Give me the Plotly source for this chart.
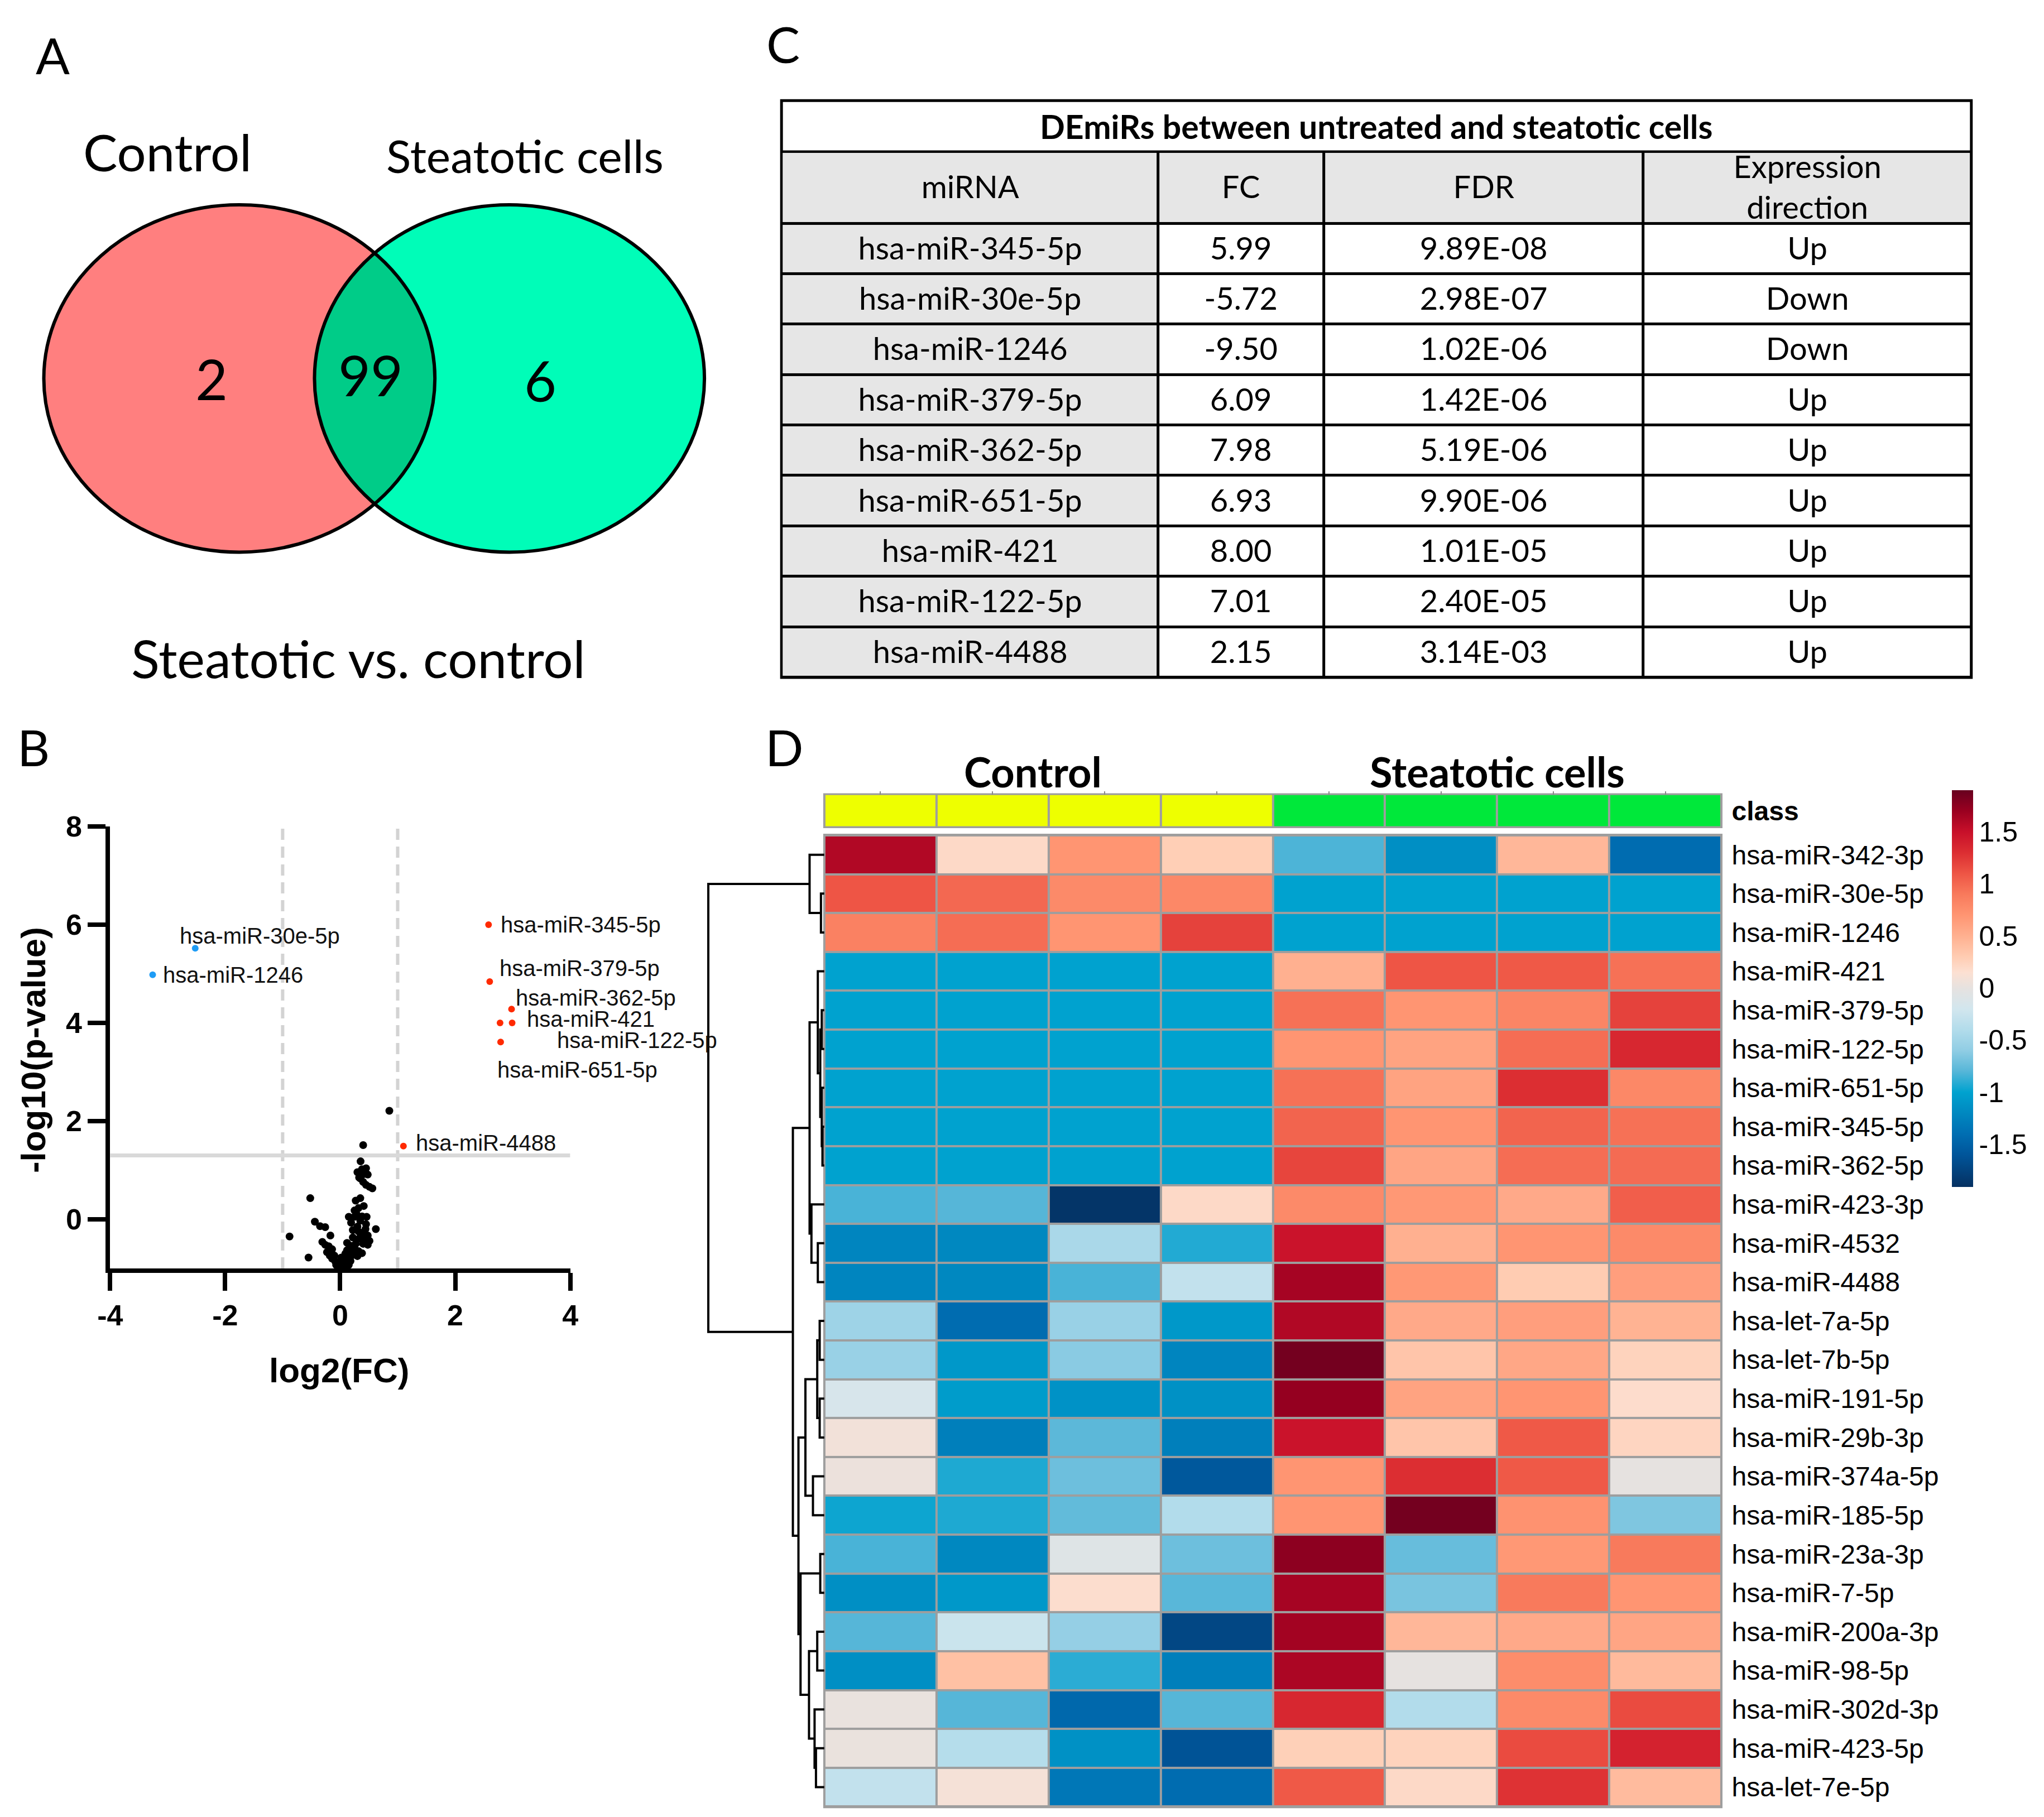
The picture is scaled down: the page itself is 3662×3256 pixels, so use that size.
import numpy as np
import plotly.graph_objects as go

W, H = 3662, 3256
OX, OY = 30, 37   # page offset seen in the rendered picture
def px(x): return (x - OX) / W
def py(y): return 1 - (y - OY) / H

ARIAL = "Liberation Sans, Arial, sans-serif"
CALIBRI = "Lato, Open Sans, sans-serif"

# ---------------- data ----------------
venn_sets = ["Control", "Steatotic cells"]
venn_counts = [2, 99, 6]
venn_title = "Steatotic vs. control"

volc_names = ["hsa-miR-345-5p", "hsa-miR-30e-5p", "hsa-miR-1246", "hsa-miR-379-5p",
              "hsa-miR-362-5p", "hsa-miR-651-5p", "hsa-miR-421", "hsa-miR-122-5p", "hsa-miR-4488"]
volc_log2fc = [2.58, -2.52, -3.26, 2.60, 2.98, 2.79, 2.99, 2.78, 1.10]
volc_neglogp = [6.00, 5.52, 4.98, 4.84, 4.28, 3.61, 4.00, 4.00, 1.49]
other_log2fc = [0.855, 0.40, 0.355, 0.38, 0.45, 0.30, 0.41, 0.48, 0.35, 0.40, 0.45, 0.51, 0.56,
                -0.52, 0.35, 0.27, 0.41, 0.25, 0.32, 0.15, 0.25, 0.38, 0.46, 0.19, 0.35, 0.45,
                -0.44, -0.35, -0.26, 0.62, -0.88, -0.17, 0.22, 0.32, 0.41, 0.48, 0.22, 0.32, 0.43, 0.51, 0.48,
                -0.31, -0.26, -0.20, -0.14, -0.55, 0.12, 0.19, 0.25, 0.32, 0.38, 0.17, 0.24,
                -0.23, -0.18, -0.14, -0.09, -0.04, 0.01, 0.06, 0.11, 0.14, 0.09, 0.04, -0.07, -0.01, 0.07, 0.15, -0.10, -0.15, 0.12, 0.20,
                0.28, 0.30, 0.36, 0.27, 0.30, 0.02, -0.02, 0.04, 0.18, 0.40, 0.44, 0.37, 0.33]
other_neglogp = [2.21, 1.51, 1.18, 1.02, 1.04, 0.96, 0.92, 0.91, 0.83, 0.76, 0.70, 0.66, 0.63,
                 0.43, 0.43, 0.38, 0.27, 0.18, 0.23, 0.05, 0.05, 0.06, 0.05, -0.07, -0.03, -0.10,
                 -0.05, -0.14, -0.16, -0.20, -0.35, -0.33, -0.22, -0.25, -0.27, -0.33, -0.37, -0.40, -0.40, -0.44, -0.52,
                 -0.46, -0.52, -0.55, -0.61, -0.78, -0.48, -0.54, -0.59, -0.65, -0.69, -0.63, -0.69,
                 -0.67, -0.74, -0.80, -0.85, -0.89, -0.93, -0.87, -0.83, -0.76, -0.70, -0.80, -0.93, -1.0, -0.97, -0.93, -0.74, -0.68, -0.63, -0.74,
                 0.12, -0.15, -0.33, -0.50, -0.75, -0.78, -0.97, -1.0, -0.85, -0.50, -0.20, 0.95, 0.85]
fc_cutoff = 1.0
p_cutoff = 0.05
volc_xticks = [-4, -2, 0, 2, 4]
volc_yticks = [0, 2, 4, 6, 8]

table_title = "DEmiRs between untreated and steatotic cells"
table_header = ["miRNA", "FC", "FDR", "Expression<br>direction"]
table_mirna = ["hsa-miR-345-5p", "hsa-miR-30e-5p", "hsa-miR-1246", "hsa-miR-379-5p", "hsa-miR-362-5p",
               "hsa-miR-651-5p", "hsa-miR-421", "hsa-miR-122-5p", "hsa-miR-4488"]
table_fc = [5.99, -5.72, -9.50, 6.09, 7.98, 6.93, 8.00, 7.01, 2.15]
table_fdr = ["9.89E-08", "2.98E-07", "1.02E-06", "1.42E-06", "5.19E-06", "9.90E-06", "1.01E-05", "2.40E-05", "3.14E-03"]
table_dir = ["Up", "Down", "Down", "Up", "Up", "Up", "Up", "Up", "Up"]

hm_rows = ["hsa-miR-342-3p", "hsa-miR-30e-5p", "hsa-miR-1246", "hsa-miR-421", "hsa-miR-379-5p",
           "hsa-miR-122-5p", "hsa-miR-651-5p", "hsa-miR-345-5p", "hsa-miR-362-5p", "hsa-miR-423-3p",
           "hsa-miR-4532", "hsa-miR-4488", "hsa-let-7a-5p", "hsa-let-7b-5p", "hsa-miR-191-5p",
           "hsa-miR-29b-3p", "hsa-miR-374a-5p", "hsa-miR-185-5p", "hsa-miR-23a-3p", "hsa-miR-7-5p",
           "hsa-miR-200a-3p", "hsa-miR-98-5p", "hsa-miR-302d-3p", "hsa-miR-423-5p", "hsa-let-7e-5p"]
hm_classes = ["Control"] * 4 + ["Steatotic cells"] * 4
hm_values = [
    [1.60, 0.20, 0.70, 0.28, -0.82, -1.15, 0.45, -1.42],
    [1.10, 1.00, 0.78, 0.80, -1.00, -1.00, -1.00, -1.00],
    [0.85, 0.97, 0.70, 1.20, -1.00, -1.00, -1.00, -1.00],
    [-1.00, -1.00, -1.00, -1.00, 0.50, 1.10, 1.08, 0.95],
    [-1.00, -1.00, -1.00, -1.00, 0.95, 0.70, 0.82, 1.20],
    [-1.00, -1.00, -1.00, -1.00, 0.70, 0.60, 0.97, 1.35],
    [-1.00, -1.00, -1.00, -1.00, 0.95, 0.60, 1.30, 0.80],
    [-1.00, -1.00, -1.00, -1.00, 1.02, 0.70, 1.02, 0.95],
    [-1.00, -1.00, -1.00, -1.00, 1.18, 0.58, 0.97, 0.98],
    [-0.83, -0.80, -1.87, 0.20, 0.78, 0.68, 0.55, 1.05],
    [-1.22, -1.20, -0.45, -0.92, 1.48, 0.50, 0.70, 0.78],
    [-1.22, -1.20, -0.83, -0.30, 1.65, 0.68, 0.30, 0.63],
    [-0.52, -1.42, -0.55, -1.08, 1.60, 0.55, 0.63, 0.48],
    [-0.55, -1.08, -0.62, -1.22, 1.85, 0.35, 0.57, 0.25],
    [-0.15, -1.05, -1.12, -1.13, 1.72, 0.60, 0.70, 0.18],
    [0.08, -1.27, -0.78, -1.27, 1.48, 0.35, 1.08, 0.23],
    [0.04, -0.93, -0.72, -1.58, 0.70, 1.30, 1.08, 0.00],
    [-0.97, -0.93, -0.76, -0.40, 0.70, 1.85, 0.72, -0.66],
    [-0.83, -1.20, -0.08, -0.72, 1.75, -0.74, 0.68, 0.90],
    [-1.15, -1.08, 0.17, -0.79, 1.65, -0.68, 0.90, 0.70],
    [-0.80, -0.25, -0.57, -1.72, 1.66, 0.45, 0.55, 0.58],
    [-1.15, 0.38, -0.90, -1.27, 1.62, 0.00, 0.76, 0.43],
    [0.02, -0.80, -1.45, -0.80, 1.35, -0.40, 0.78, 1.15],
    [0.03, -0.38, -1.13, -1.62, 0.27, 0.25, 1.15, 1.38],
    [-0.30, 0.10, -1.33, -1.42, 1.08, 0.20, 1.28, 0.42],
]
hm_linkage = [
    (1, 2, 0.029), (0, 25, 0.127), (7, 8, 0.016), (6, 27, 0.022), (4, 5, 0.022),
    (29, 28, 0.035), (3, 30, 0.056), (10, 11, 0.056), (9, 32, 0.111), (31, 33, 0.127),
    (12, 13, 0.040), (14, 15, 0.040), (35, 36, 0.061), (16, 17, 0.098), (37, 38, 0.163),
    (18, 19, 0.035), (20, 21, 0.061), (23, 24, 0.072), (22, 42, 0.084), (41, 43, 0.132),
    (40, 44, 0.205), (39, 45, 0.223), (34, 46, 0.271), (26, 47, 1.000),
]
hm_zmin, hm_zmax = -1.91, 1.90
cbar_ticks = [-1.5, -1, -0.5, 0, 0.5, 1, 1.5]

# ---------------- styles ----------------
cs_points = [(-1.91, "#053061"), (-1.6, "#00559A"), (-1.4, "#006EB2"), (-1.2, "#0088C0"),
             (-1.0, "#00A2CF"), (-0.8, "#56B6D8"), (-0.6, "#90CDE4"), (-0.4, "#B2DCEB"),
             (-0.2, "#D2E6EE"), (0.0, "#E6E2E0"), (0.15, "#FCE0D2"), (0.3, "#FFCCB2"),
             (0.5, "#FFB090"), (0.7, "#FF9572"), (0.9, "#F87A5C"), (1.1, "#EE5545"),
             (1.3, "#DC2E32"), (1.5, "#C8102A"), (1.7, "#9A0020"), (1.90, "#67001F")]
hm_colorscale = [[(v - hm_zmin) / (hm_zmax - hm_zmin), c] for v, c in cs_points]

fig = go.Figure()
shapes, annots = [], []

def label(x, y, text, size, family=CALIBRI, bold=False, xanchor="center", angle=0, color="black"):
    annots.append(dict(x=px(x), y=py(y), xref="paper", yref="paper", text=text, showarrow=False,
                       xanchor=xanchor, yanchor="middle", textangle=angle,
                       font=dict(family=family, size=size, color=color, weight="bold" if bold else "normal")))

# ---------------- Panel A: Venn ----------------
EL = dict(cx=432, cy=684, rx=354, ry=314)
ER = dict(cx=921, cy=684, rx=353, ry=314)
def ell_shape(e, fill, line_w=0):
    return dict(type="circle", xref="paper", yref="paper",
                x0=px(e["cx"] - e["rx"]), x1=px(e["cx"] + e["rx"]),
                y0=py(e["cy"] + e["ry"]), y1=py(e["cy"] - e["ry"]),
                fillcolor=fill, line=dict(color="black", width=line_w) if line_w else dict(width=0))
def inside(e, x, y):
    return ((x - e["cx"]) / e["rx"]) ** 2 + ((y - e["cy"]) / e["ry"]) ** 2 <= 1
t1 = np.linspace(-np.pi, np.pi, 1501)
lx, ly = EL["cx"] + EL["rx"] * np.cos(t1), EL["cy"] + EL["ry"] * np.sin(t1)
m1 = inside(ER, lx, ly)
t2 = np.linspace(0, 2 * np.pi, 1501)
rx_, ry_ = ER["cx"] + ER["rx"] * np.cos(t2), ER["cy"] + ER["ry"] * np.sin(t2)
m2 = inside(EL, rx_, ry_)
lens = list(zip(lx[m1], ly[m1])) + list(zip(rx_[m2], ry_[m2]))
lens_path = "M " + " L ".join(f"{px(a):.6f},{py(b):.6f}" for a, b in lens) + " Z"

shapes.append(ell_shape(EL, "#FF7F7F"))
shapes.append(ell_shape(ER, "#00FDB8"))
shapes.append(dict(type="path", xref="paper", yref="paper", path=lens_path, fillcolor="#00CC88", line=dict(width=0)))
shapes.append(ell_shape(EL, "rgba(0,0,0,0)", 6))
shapes.append(ell_shape(ER, "rgba(0,0,0,0)", 6))

label(94, 99, "A", 90)
label(302, 274, venn_sets[0], 92)
label(949, 280, venn_sets[1], 82)
label(382, 684, str(venn_counts[0]), 100)
label(670, 677, str(venn_counts[1]), 100)
label(977, 687, str(venn_counts[2]), 100)
label(647, 1189, venn_title, 94)

# ---------------- Panel B: volcano ----------------
label(59, 1350, "B", 90)
p_line = -np.log10(p_cutoff)
for xv in (-fc_cutoff, fc_cutoff):
    shapes.append(dict(type="line", xref="x", yref="y", x0=xv, x1=xv, y0=-1, y1=8,
                       line=dict(color="#D3D3D3", width=6, dash="20px,12px"), layer="below"))
shapes.append(dict(type="line", xref="x", yref="y", x0=-4, x1=4, y0=p_line, y1=p_line,
                   line=dict(color="#D9D9D9", width=7), layer="below"))

fig.add_trace(go.Scatter(x=other_log2fc, y=other_neglogp, mode="markers", xaxis="x", yaxis="y",
                         marker=dict(color="black", size=14), cliponaxis=False,
                         showlegend=False, hoverinfo="skip"))
volc_colors = ["#FF2A00" if v > 0 else "#1E9CF5" for v in volc_log2fc]
fig.add_trace(go.Scatter(x=volc_log2fc, y=volc_neglogp, mode="markers", xaxis="x", yaxis="y",
                         marker=dict(color=volc_colors, size=12), cliponaxis=False,
                         showlegend=False, hoverinfo="skip"))
lab_off = {"hsa-miR-345-5p": (20, 0), "hsa-miR-30e-5p": (-30, 22), "hsa-miR-1246": (16, 0),
           "hsa-miR-379-5p": (16, 24), "hsa-miR-362-5p": (5, 20), "hsa-miR-421": (24, 7),
           "hsa-miR-122-5p": (100, -31), "hsa-miR-651-5p": (-8, -50), "hsa-miR-4488": (20, 6)}
for n, xv, yv in zip(volc_names, volc_log2fc, volc_neglogp):
    dx, dy = lab_off[n]
    annots.append(dict(x=xv, y=yv, xref="x", yref="y", text=n, showarrow=False, xanchor="left",
                       yanchor="middle", xshift=dx, yshift=dy,
                       font=dict(family=ARIAL, size=40, color="#111111")))
label(613, 2477, "log2(FC)", 62, family=ARIAL, bold=True)
label(59, 1898, "-log10(p-value)", 62, family=ARIAL, bold=True, angle=-90)

# ---------------- Panel C: table ----------------
label(1416, 78, "C", 90)
TL, TR, TT, TM, TB = 1411, 3570, 179, 274, 1227
shapes.append(dict(type="rect", xref="paper", yref="paper", x0=px(TL), x1=px(TR), y0=py(TB), y1=py(TT),
                   fillcolor="black", line=dict(width=0), layer="below"))
shapes.append(dict(type="rect", xref="paper", yref="paper", x0=px(TL + 5), x1=px(TR - 5), y0=py(TM - 2.5), y1=py(TT + 5),
                   fillcolor="white", line=dict(width=0), layer="below"))
label((TL + TR) / 2, 228, table_title, 59, bold=True)

col_w = [684, 300, 580, 595]
hdr_h = 130
row_h = (TB - TM - hdr_h) / len(table_mirna)
x_edges = [0] + list(np.cumsum(col_w).astype(float))
y_edges = [0, hdr_h] + [hdr_h + row_h * (i + 1) for i in range(len(table_mirna))]
tab_text = [table_header] + [[m, f"{f:.2f}", d, e] for m, f, d, e in zip(table_mirna, table_fc, table_fdr, table_dir)]
tab_z = [[1, 1, 1, 1]] + [[1, 0, 0, 0] for _ in table_mirna]
fig.add_trace(go.Heatmap(x=x_edges, y=y_edges, z=tab_z, text=tab_text, texttemplate="%{text}",
                         textfont=dict(family=CALIBRI, size=56, color="black"),
                         colorscale=[[0, "white"], [1, "#E6E6E6"]], zmin=0, zmax=1, showscale=False,
                         xgap=5, ygap=5, xaxis="x5", yaxis="y5", hoverinfo="skip"))

# ---------------- Panel D: heatmap ----------------
label(1418, 1350, "D", 90)
HL, HR, HT, HB = 1491, 3115, 1510, 3266
CT, CB = 1437, 1494
shapes.append(dict(type="rect", xref="paper", yref="paper", x0=px(HL - 2), x1=px(HR + 2), y0=py(HB + 3), y1=py(HT - 3),
                   fillcolor="#9E9E9E", line=dict(width=0), layer="below"))
shapes.append(dict(type="rect", xref="paper", yref="paper", x0=px(HL - 2), x1=px(HR + 2), y0=py(CB + 3), y1=py(CT - 3),
                   fillcolor="#9E9E9E", line=dict(width=0), layer="below"))

n_rows, n_cols = len(hm_rows), len(hm_classes)
fig.add_trace(go.Heatmap(z=hm_values, x=list(range(n_cols)), y=list(range(n_rows)),
                         colorscale=hm_colorscale, zmin=hm_zmin, zmax=hm_zmax, xgap=4, ygap=4,
                         xaxis="x3", yaxis="y3", hoverinfo="skip",
                         colorbar=dict(x=px(3532), xanchor="left", y=py(1787), yanchor="middle",
                                       len=711, lenmode="pixels", thickness=38, thicknessmode="pixels",
                                       outlinewidth=0, ticks="", tickvals=cbar_ticks,
                                       ticktext=[f"{v:g}" for v in cbar_ticks], xpad=0, ypad=0,
                                       tickfont=dict(family=ARIAL, size=50, color="black"))))

class_names = list(dict.fromkeys(hm_classes))
class_z = [[class_names.index(c) for c in hm_classes]]
fig.add_trace(go.Heatmap(z=class_z, x=list(range(n_cols)), y=[0],
                         colorscale=[[0, "#EEFF00"], [1, "#00E83A"]], zmin=0, zmax=1, showscale=False,
                         xgap=4, ygap=0, xaxis="x4", yaxis="y4", hoverinfo="skip"))
group_shift = {"Control": -28, "Steatotic cells": 0}
for cname in class_names:
    idx = [i for i, c in enumerate(hm_classes) if c == cname]
    annots.append(dict(x=float(np.mean(idx)), y=py(1395), xref="x4", yref="paper", text=cname,
                       showarrow=False, xanchor="center", yanchor="middle", xshift=group_shift[cname],
                       font=dict(family=CALIBRI, size=74, color="black", weight="bold")))

pos = {i: float(i) for i in range(n_rows)}
hgt = {i: 0.0 for i in range(n_rows)}
dx_, dy_ = [], []
for k, (a, b, h) in enumerate(hm_linkage):
    node = n_rows + k
    dx_ += [hgt[a], h, h, hgt[b], None]
    dy_ += [pos[a], pos[a], pos[b], pos[b], None]
    pos[node] = (pos[a] + pos[b]) / 2
    hgt[node] = h
fig.add_trace(go.Scatter(x=dx_, y=dy_, mode="lines", line=dict(color="black", width=4),
                         xaxis="x2", yaxis="y2", showlegend=False, hoverinfo="skip", cliponaxis=False))

# ---------------- layout ----------------
hidden = dict(visible=False, showgrid=False, zeroline=False)
ydom_hm = [py(HB), py(HT)]
root_px = 1281
fig.update_layout(
    width=W, height=H, margin=dict(l=0, r=0, t=0, b=0),
    paper_bgcolor="white", plot_bgcolor="rgba(0,0,0,0)", showlegend=False,
    xaxis=dict(domain=[px(198), px(1031)], range=[-4, 4], anchor="y", showline=True, linecolor="black",
               linewidth=8, ticks="outside", ticklen=32, tickwidth=8, tickcolor="black",
               tickvals=volc_xticks, ticktext=[str(v) for v in volc_xticks],
               tickfont=dict(family=ARIAL, size=52, color="black", weight="bold"),
               showgrid=False, zeroline=False),
    yaxis=dict(domain=[py(2293), py(1494)], range=[-1, 8], anchor="x", showline=True, linecolor="black",
               linewidth=8, ticks="outside", ticklen=32, tickwidth=8, tickcolor="black",
               tickvals=volc_yticks, ticktext=[str(v) for v in volc_yticks],
               tickfont=dict(family=ARIAL, size=52, color="black", weight="bold"),
               showgrid=False, zeroline=False),
    xaxis2=dict(domain=[px(root_px - 5), px(HL)], range=[1 + 5 / (HL - root_px), 0], anchor="y2", **hidden),
    yaxis2=dict(domain=ydom_hm, range=[n_rows - 0.5, -0.5], anchor="x2", **hidden),
    xaxis3=dict(domain=[px(HL), px(HR)], range=[-0.5, n_cols - 0.5], anchor="y3", **hidden),
    yaxis3=dict(domain=ydom_hm, range=[n_rows - 0.5, -0.5], anchor="x3", side="right",
                tickvals=list(range(n_rows)), ticktext=hm_rows, ticks="outside", ticklen=8,
                tickcolor="rgba(0,0,0,0)", showline=False, showgrid=False, zeroline=False,
                tickfont=dict(family=ARIAL, size=48, color="black")),
    xaxis4=dict(domain=[px(HL), px(HR)], range=[-0.5, n_cols - 0.5], anchor="y4", side="top",
                tickvals=list(range(n_cols)), ticks="outside", ticklen=6, tickwidth=2, tickcolor="#888888",
                showticklabels=False, showline=False, showgrid=False, zeroline=False),
    yaxis4=dict(domain=[py(CB), py(CT)], range=[-0.5, 0.5], anchor="x4", side="right",
                tickvals=[0], ticktext=["class"], ticks="outside", ticklen=8, tickcolor="rgba(0,0,0,0)",
                showline=False, showgrid=False, zeroline=False,
                tickfont=dict(family=ARIAL, size=48, color="black", weight="bold")),
    xaxis5=dict(domain=[px(TL + 2.5), px(TR - 2.5)], range=[0, x_edges[-1]], anchor="y5", **hidden),
    yaxis5=dict(domain=[py(TB - 2.5), py(TM)], range=[y_edges[-1], 0], anchor="x5", **hidden),
    shapes=shapes, annotations=annots,
)
fig.write_html("out.html")
